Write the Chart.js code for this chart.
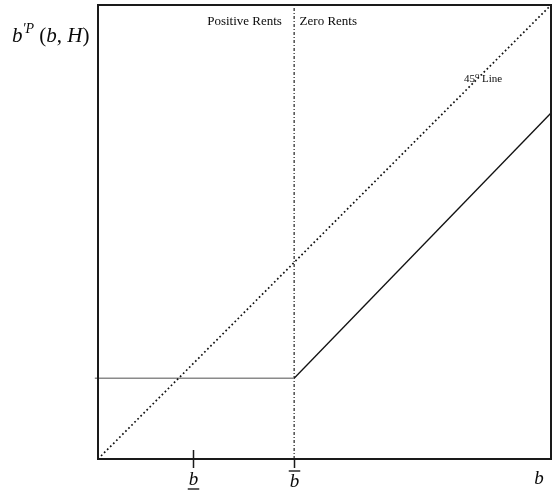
<!DOCTYPE html>
<html>
<head>
<meta charset="utf-8">
<script src="https://cdn.jsdelivr.net/npm/chart.js@4/dist/chart.umd.min.js"></script>
<style>
  html, body { margin: 0; padding: 0; background: #fff; }
  #wrap { width: 553px; height: 496px; }
</style>
</head>
<body>
<div id="wrap"><canvas id="chart"></canvas></div>
<script>
// thresholds on the b axis and the rent floor
const bLow = 21.0;
const bBar = 43.3;
const floorLevel = 17.8;

// 45 degree reference line
const diagonalX = [0, 100];
const diagonalY = [0, 100];

// policy function: flat at the floor, then rising once rents are zero
const positiveRentX = [-0.7, bBar];
const positiveRentY = [floorLevel, floorLevel];
const zeroRentX = [bBar, 100];
const zeroRentY = [floorLevel, 76.2];

// vertical cutoff at b-bar
const cutoffX = [bBar, bBar];
const cutoffY = [0, 100];

const regionLabels = ["Positive Rents", "Zero Rents"];
const diagonalLabel = "45\u2070 Line";

const pts = (xs, ys) => xs.map((x, i) => ({ x, y: ys[i] }));
const SERIF = '"Liberation Serif", "DejaVu Serif", serif';

// frame, tick marks and all the math-style labels
const annotations = {
  id: "annotations",
  afterDatasetsDraw(chart) {
    const { ctx, chartArea: a, scales: { x, y } } = chart;
    ctx.save();

    ctx.strokeStyle = "#1a1a1a";
    ctx.lineWidth = 2;
    ctx.strokeRect(a.left, a.top, a.right - a.left, a.bottom - a.top);

    // ticks at the two thresholds
    ctx.lineWidth = 1.5;
    const xl = Math.round(x.getPixelForValue(bLow)) + 0.5;
    const xb = Math.round(x.getPixelForValue(bBar)) + 0.5;
    ctx.beginPath();
    ctx.moveTo(xl, a.bottom - 9); ctx.lineTo(xl, a.bottom + 9);
    ctx.moveTo(xb, a.bottom); ctx.lineTo(xb, a.bottom + 9);
    ctx.stroke();

    ctx.fillStyle = "#0a0a0a";
    ctx.textBaseline = "alphabetic";

    // region headings
    ctx.font = "13px " + SERIF;
    ctx.textAlign = "right";
    ctx.fillText(regionLabels[0], x.getPixelForValue(40.6), y.getPixelForValue(95.6));
    ctx.textAlign = "left";
    ctx.fillText(regionLabels[1], x.getPixelForValue(44.5), y.getPixelForValue(95.6));

    ctx.font = "11px " + SERIF;
    ctx.textAlign = "center";
    ctx.fillText(diagonalLabel, x.getPixelForValue(85.0), y.getPixelForValue(83.0));

    // b labels under the axis
    ctx.font = "italic 19px " + SERIF;
    ctx.textAlign = "center";
    ctx.fillText("b", xl, 485);
    let w = ctx.measureText("b").width;
    ctx.lineWidth = 1.4;
    ctx.beginPath();
    ctx.moveTo(xl - w / 2 - 1, 489); ctx.lineTo(xl + w / 2 + 1, 489);
    ctx.stroke();

    ctx.fillText("b", xb, 487);
    ctx.beginPath();
    ctx.moveTo(xb - w / 2 - 1, 471); ctx.lineTo(xb + w / 2 + 1, 471);
    ctx.stroke();

    ctx.fillText("b", 539, 484);

    // y axis title: b'^P (b, H)
    const parts = [
      { t: "b", f: "italic 21px " + SERIF, dy: 0 },
      { t: "\u2032P", f: "italic 14px " + SERIF, dy: -9 },
      { t: " (", f: "21px " + SERIF, dy: 0 },
      { t: "b", f: "italic 21px " + SERIF, dy: 0 },
      { t: ", ", f: "21px " + SERIF, dy: 0 },
      { t: "H", f: "italic 21px " + SERIF, dy: 0 },
      { t: ")", f: "21px " + SERIF, dy: 0 }
    ];
    ctx.textAlign = "left";
    let cx = 12;
    parts.forEach(p => {
      ctx.font = p.f;
      ctx.fillText(p.t, cx, 42 + p.dy);
      cx += ctx.measureText(p.t).width;
    });

    ctx.restore();
  }
};

new Chart(document.getElementById("chart"), {
  type: "scatter",
  data: {
    datasets: [
      {
        data: pts(diagonalX, diagonalY),
        showLine: true,
        borderColor: "#111",
        borderWidth: 1.7,
        borderDash: [1.7, 2.6],
        pointRadius: 0
      },
      {
        data: pts(positiveRentX, positiveRentY),
        showLine: true,
        borderColor: "#8a8a8a",
        borderWidth: 1.5,
        pointRadius: 0,
        clip: false
      },
      {
        data: pts(zeroRentX, zeroRentY),
        showLine: true,
        borderColor: "#111",
        borderWidth: 1.3,
        pointRadius: 0
      },
      {
        data: pts(cutoffX, cutoffY),
        showLine: true,
        borderColor: "#333",
        borderWidth: 1.3,
        borderDash: [3, 2, 1, 2],
        pointRadius: 0
      }
    ]
  },
  options: {
    responsive: true,
    maintainAspectRatio: false,
    animation: false,
    events: [],
    layout: { padding: { left: 98, right: 2, top: 5, bottom: 37 } },
    plugins: { legend: { display: false }, tooltip: { enabled: false } },
    scales: {
      x: { type: "linear", min: 0, max: 100, display: false },
      y: { type: "linear", min: 0, max: 100, display: false }
    }
  },
  plugins: [annotations]
});
</script>
</body>
</html>
